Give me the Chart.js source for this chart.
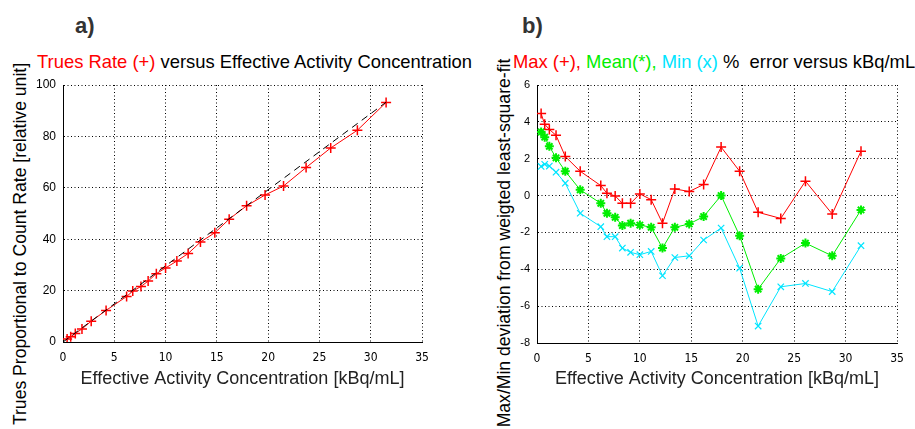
<!DOCTYPE html>
<html>
<head>
<meta charset="utf-8">
<script src="https://cdn.jsdelivr.net/npm/chart.js@4.4.0/dist/chart.umd.min.js"></script>
<style>
  body { margin: 0; background: #fff; width: 915px; height: 429px; overflow: hidden; position: relative;
         font-family: "Liberation Sans", Arial, sans-serif; }
  .box { position: absolute; top: 0; height: 429px; }
  .txt { position: absolute; white-space: nowrap; }
  .panel { font-weight: bold; font-size: 22px; color: #333; }
  .title { font-size: 18.4px; color: #000; }
  .ylab { font-size: 17.6px; width: 460px; height: 20px; line-height: 20px; text-align: center; transform: rotate(-90deg); }
</style>
</head>
<body>
<div class="txt panel" style="left:75px;top:13px">a)</div>
<div class="txt panel" style="left:522px;top:13px">b)</div>
<div class="txt title" style="left:37px;top:51px"><span style="color:#ff0000">Trues Rate (+)</span> versus Effective Activity Concentration</div>
<div class="txt title" style="left:513px;top:51px"><span style="color:#ff0000">Max (+),</span> <span style="color:#00ee00">Mean(*),</span> <span style="color:#00e5ff">Min (x)</span> % &nbsp;error versus kBq/mL</div>
<div class="txt ylab" style="left:-210px;top:234px">Trues Proportional to Count Rate [relative unit]</div>
<div class="txt ylab" style="left:274px;top:233px">Max/Min deviation from weigted least-square-fit</div>

<div class="box" style="left:0;width:460px"><canvas id="chartA"></canvas></div>
<div class="box" style="left:460px;width:455px"><canvas id="chartB"></canvas></div>

<script>
// activity concentration kBq/mL (shared by both panels)
var conc = [0.4, 0.75, 1.2, 1.85, 2.75, 4.2, 6.2, 6.8, 7.6, 8.3, 9.1, 10.0, 11.1, 12.2, 13.4, 14.8, 16.2, 17.9, 19.7, 21.5, 23.7, 26.1, 28.7, 31.5];

// a) trues rate
var trues = [1.2, 2.0, 3.3, 5.1, 8.1, 12.3, 17.7, 19.8, 21.6, 23.7, 26.6, 28.8, 31.5, 34.4, 38.9, 42.5, 47.8, 53.0, 57.2, 60.7, 67.9, 75.5, 82.4, 93.2];
var fitX = [0, 31.5];
var fitY = [0, 93.3];

// b) % error
var errMax  = [4.45, 3.87, 3.59, 3.27, 2.12, 1.32, 0.54, 0.13, -0.02, -0.42, -0.42, 0.09, -0.22, -1.5, 0.36, 0.22, 0.6, 2.63, 1.32, -0.91, -1.24, 0.78, -1.0, 2.41];
var errMean = [3.45, 3.17, 2.67, 2.05, 1.32, 0.31, -0.42, -0.96, -1.18, -1.63, -1.5, -1.6, -1.72, -2.85, -1.72, -1.54, -1.14, 0.0, -2.18, -5.08, -3.41, -2.58, -3.27, -0.78];
var errMin  = [1.58, 1.7, 1.6, 1.27, 0.67, -0.96, -1.69, -2.23, -2.23, -2.85, -3.08, -3.21, -3.03, -4.35, -3.36, -3.27, -2.41, -1.76, -3.94, -7.08, -4.95, -4.77, -5.21, -2.72];

var xTicks = [0, 5, 10, 15, 20, 25, 30, 35];
var yTicksA = [0, 20, 40, 60, 80, 100];
var yTicksB = [-8, -6, -4, -2, 0, 2, 4, 6];

function pts(xs, ys) {
  return xs.map(function (x, i) { return {x: x, y: ys[i]}; });
}

var narrow = '"Liberation Sans Narrow", "DejaVu Sans Condensed", "Liberation Sans", sans-serif';

function makeScales(ymin, ymax, ystep, yw, xh, yFontSize) {
  var grid = {color: '#000', lineWidth: 1, drawTicks: false};
  var border = {display: true, color: '#000', width: 1, dash: [1, 2.5]};
  return {
    x: {
      type: 'linear', min: 0, max: 35,
      ticks: {stepSize: 5, color: '#000', padding: 9, font: {family: narrow, size: 12}},
      grid: grid, border: border,
      title: {display: true, text: 'Effective Activity Concentration [kBq/mL]', color: '#222',
              font: {family: 'Liberation Sans', size: 18}, padding: {top: 4, bottom: 39}},
      afterFit: function (s) { s.height = xh; }
    },
    y: {
      type: 'linear', min: ymin, max: ymax,
      ticks: {stepSize: ystep, color: '#000', padding: 7, font: {family: 'Liberation Sans', size: yFontSize}},
      grid: grid, border: border,
      afterFit: function (s) { s.width = yw; }
    }
  };
}

var common = {
  responsive: false,
  animation: false,
  plugins: {legend: {display: false}, tooltip: {enabled: false}}
};

var ctxA = document.getElementById('chartA');
ctxA.width = 460; ctxA.height = 429;
new Chart(ctxA, {
  type: 'scatter',
  data: {
    datasets: [{
      data: pts(fitX, fitY),
      showLine: true, borderColor: '#000', borderWidth: 1, borderDash: [7, 5],
      pointRadius: 0
    }, {
      data: pts(conc, trues),
      showLine: true, borderColor: '#ff0000', borderWidth: 1,
      pointStyle: 'cross', pointRadius: 5, pointBorderWidth: 1.5, pointBorderColor: '#ff0000'
    }]
  },
  options: Object.assign({}, common, {
    layout: {padding: {left: 0, top: 85, right: 38, bottom: 0}},
    scales: makeScales(0, 100, 20, 63, 87, 12)
  })
});

var ctxB = document.getElementById('chartB');
ctxB.width = 455; ctxB.height = 429;
new Chart(ctxB, {
  type: 'scatter',
  data: {
    datasets: [{
      data: pts(conc, errMax),
      showLine: true, borderColor: '#ff0000', borderWidth: 1,
      pointStyle: 'cross', pointRadius: 5, pointBorderWidth: 1.5, pointBorderColor: '#ff0000'
    }, {
      data: pts(conc, errMean),
      showLine: true, borderColor: '#00ee00', borderWidth: 1,
      pointStyle: 'star', pointRadius: 4.5, pointBorderWidth: 2, pointBorderColor: '#00ee00'
    }, {
      data: pts(conc, errMin),
      showLine: true, borderColor: '#00e5ff', borderWidth: 1,
      pointStyle: 'crossRot', pointRadius: 4.5, pointBorderWidth: 1.2, pointBorderColor: '#00e5ff'
    }]
  },
  options: Object.assign({}, common, {
    layout: {padding: {left: 0, top: 85, right: 18, bottom: 0}},
    scales: makeScales(-8, 6, 2, 77, 86, 11)
  })
});
</script>
</body>
</html>
